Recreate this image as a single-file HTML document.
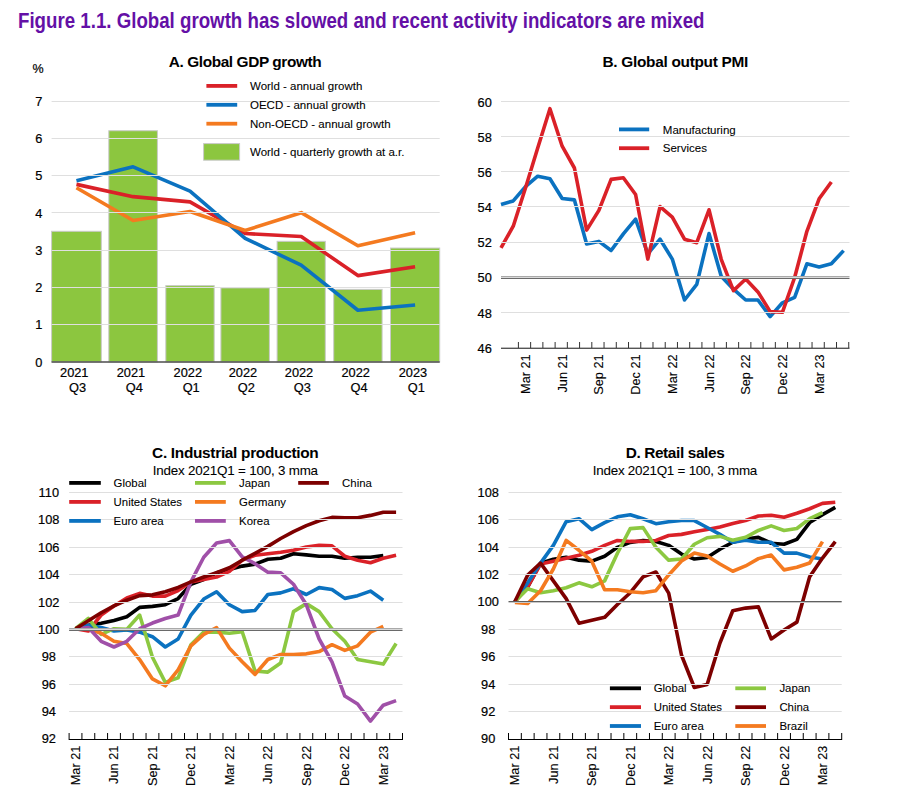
<!DOCTYPE html>
<html><head><meta charset="utf-8"><style>
html,body{margin:0;padding:0;background:#fff;}
body{width:912px;height:811px;overflow:hidden;}
svg{display:block;font-family:"Liberation Sans", sans-serif;}
text{fill:#000;stroke:#000;stroke-width:0.2px;}
text.lg{stroke-width:0.08px;}
text.tt{stroke-width:0;}
text.rl{stroke-width:0.1px;}
</style></head><body>
<svg width="912" height="811" viewBox="0 0 912 811">
<rect width="912" height="811" fill="#fff"/>
<rect x="51.60" y="231.29" width="49.70" height="130.71" fill="#8cc63f" stroke="#c9c9c9" stroke-width="1"/>
<rect x="108.80" y="130.74" width="48.60" height="231.26" fill="#8cc63f" stroke="#c9c9c9" stroke-width="1"/>
<rect x="165.80" y="285.66" width="48.40" height="76.34" fill="#8cc63f" stroke="#c9c9c9" stroke-width="1"/>
<rect x="220.90" y="287.89" width="48.50" height="74.11" fill="#8cc63f" stroke="#c9c9c9" stroke-width="1"/>
<rect x="277.10" y="241.34" width="48.20" height="120.66" fill="#8cc63f" stroke="#c9c9c9" stroke-width="1"/>
<rect x="333.70" y="289.38" width="48.40" height="72.62" fill="#8cc63f" stroke="#c9c9c9" stroke-width="1"/>
<rect x="390.50" y="248.05" width="49.20" height="113.95" fill="#8cc63f" stroke="#c9c9c9" stroke-width="1"/>
<polyline points="76.45,184.37 133.10,196.65 190.00,201.87 245.15,233.52 301.20,236.50 357.90,275.60 415.10,266.67" fill="none" stroke="#da2128" stroke-width="3.6" stroke-linejoin="round" stroke-linecap="butt"/>
<polyline points="76.45,180.64 133.10,166.86 190.00,191.07 245.15,238.36 301.20,265.18 357.90,310.24 415.10,305.02" fill="none" stroke="#0b72c0" stroke-width="3.6" stroke-linejoin="round" stroke-linecap="butt"/>
<polyline points="76.45,187.72 133.10,220.49 190.00,211.55 245.15,230.54 301.20,212.67 357.90,245.81 415.10,232.78" fill="none" stroke="#f47a20" stroke-width="3.6" stroke-linejoin="round" stroke-linecap="butt"/>
<polyline points="501.00,204.50 513.24,200.90 525.47,186.70 537.71,176.20 549.94,178.80 562.17,198.50 574.41,199.90 586.64,243.90 598.88,241.40 611.12,250.50 623.35,233.90 635.59,219.20 647.82,253.80 660.06,239.20 672.29,259.10 684.52,300.00 696.76,284.30 709.00,233.60 721.23,276.30 733.46,289.20 745.70,300.00 757.93,300.00 770.17,316.60 782.40,302.80 794.64,297.40 806.88,263.80 819.11,267.00 831.35,263.80 843.58,250.60" fill="none" stroke="#0b72c0" stroke-width="3.6" stroke-linejoin="round" stroke-linecap="butt"/>
<polyline points="501.00,247.90 513.24,226.20 525.47,188.00 537.71,148.00 549.94,108.70 562.17,146.20 574.41,168.00 586.64,230.10 598.88,210.40 611.12,179.40 623.35,177.70 635.59,194.50 647.82,259.10 660.06,206.60 672.29,217.10 684.52,239.20 696.76,242.70 709.00,209.80 721.23,259.30 733.46,290.60 745.70,279.00 757.93,291.90 770.17,311.60 782.40,312.30 794.64,277.50 806.88,231.30 819.11,198.80 831.35,182.00" fill="none" stroke="#da2128" stroke-width="3.6" stroke-linejoin="round" stroke-linecap="butt"/>
<polyline points="75.51,628.73 88.33,625.20 101.16,623.20 113.98,620.40 126.80,616.80 139.63,607.40 152.45,606.40 165.27,604.73 178.10,598.57 190.92,584.39 203.74,579.46 216.57,572.80 229.39,569.50 242.21,566.11 255.03,564.14 267.86,559.21 280.68,558.22 293.50,553.68 306.33,554.86 319.15,556.25 331.97,556.25 344.80,558.22 357.62,557.23 370.44,557.23 383.27,555.65" fill="none" stroke="#000" stroke-width="3.6" stroke-linejoin="round" stroke-linecap="butt"/>
<polyline points="75.51,628.73 88.33,631.01 101.16,615.00 113.98,605.91 126.80,597.92 139.63,593.36 152.45,596.10 165.27,596.10 178.10,590.55 190.92,581.92 203.74,579.46 216.57,576.99 229.39,571.44 242.21,560.19 255.03,555.26 267.86,553.68 280.68,552.30 293.50,550.33 306.33,546.97 319.15,545.39 331.97,545.79 344.80,556.25 357.62,560.19 370.44,562.76 383.27,558.22 396.09,555.26" fill="none" stroke="#da2128" stroke-width="3.6" stroke-linejoin="round" stroke-linecap="butt"/>
<polyline points="75.51,628.73 88.33,625.31 101.16,627.59 113.98,631.01 126.80,629.87 139.63,632.15 152.45,636.72 165.27,646.99 178.10,639.00 190.92,615.04 203.74,599.06 216.57,591.76 229.39,604.77 242.21,611.62 255.03,610.47 267.86,594.50 280.68,592.90 293.50,588.80 306.33,594.50 319.15,587.65 331.97,589.48 344.80,598.38 357.62,595.64 370.44,591.08 383.27,600.21" fill="none" stroke="#0b72c0" stroke-width="3.6" stroke-linejoin="round" stroke-linecap="butt"/>
<polyline points="75.51,628.73 88.33,618.46 101.16,634.44 113.98,628.73 126.80,629.42 139.63,615.04 152.45,657.26 165.27,682.36 178.10,677.80 190.92,644.71 203.74,632.15 216.57,632.15 229.39,633.30 242.21,631.70 255.03,670.95 267.86,672.09 280.68,662.96 293.50,611.62 306.33,603.63 319.15,611.62 331.97,628.73 344.80,641.28 357.62,659.54 370.44,661.82 383.27,664.10 396.09,643.56" fill="none" stroke="#8cc841" stroke-width="3.6" stroke-linejoin="round" stroke-linecap="butt"/>
<polyline points="75.51,628.73 88.33,628.73 101.16,633.30 113.98,641.28 126.80,643.56 139.63,659.54 152.45,678.94 165.27,685.78 178.10,669.81 190.92,645.85 203.74,634.44 216.57,627.59 229.39,648.13 242.21,661.82 255.03,674.37 267.86,659.54 280.68,654.52 293.50,654.52 306.33,653.83 319.15,651.55 331.97,644.71 344.80,650.41 357.62,645.85 370.44,632.15 383.27,626.45" fill="none" stroke="#f47a20" stroke-width="3.6" stroke-linejoin="round" stroke-linecap="butt"/>
<polyline points="75.51,628.73 88.33,627.59 101.16,641.28 113.98,646.99 126.80,641.28 139.63,628.73 152.45,623.03 165.27,618.46 178.10,615.04 190.92,581.92 203.74,557.26 216.57,543.08 229.39,540.62 242.21,556.85 255.03,563.69 267.86,572.14 280.68,572.82 293.50,584.23 306.33,604.77 319.15,639.00 331.97,661.82 344.80,696.05 357.62,704.04 370.44,721.15 383.27,705.18 396.09,700.62" fill="none" stroke="#a050a8" stroke-width="3.6" stroke-linejoin="round" stroke-linecap="butt"/>
<polyline points="75.51,628.73 88.33,620.74 101.16,612.76 113.98,605.91 126.80,600.21 139.63,595.64 152.45,594.87 165.27,591.79 178.10,587.47 190.92,581.92 203.74,576.99 216.57,572.68 229.39,567.74 242.21,560.19 255.03,553.29 267.86,546.38 280.68,538.48 293.50,531.58 306.33,525.66 319.15,520.72 331.97,517.37 344.80,517.76 357.62,517.76 370.44,515.39 383.27,512.24 396.09,512.24" fill="none" stroke="#7d0000" stroke-width="3.6" stroke-linejoin="round" stroke-linecap="butt"/>
<polyline points="514.91,601.58 527.72,586.79 540.54,563.12 553.35,559.17 566.17,557.20 578.98,560.16 591.80,561.14 604.62,556.21 617.43,547.34 630.25,542.41 643.06,540.43 655.88,541.42 668.69,545.36 681.51,554.10 694.32,559.03 707.14,557.46 719.95,549.17 732.77,542.27 745.58,538.92 758.40,537.34 771.22,543.25 784.03,544.24 796.85,539.31 809.66,522.54 822.48,514.65 835.29,507.36" fill="none" stroke="#000" stroke-width="3.6" stroke-linejoin="round" stroke-linecap="butt"/>
<polyline points="514.91,601.58 527.72,586.79 540.54,564.10 553.35,561.14 566.17,558.19 578.98,555.23 591.80,551.28 604.62,545.36 617.43,540.43 630.25,541.42 643.06,541.42 655.88,540.43 668.69,535.50 681.51,534.38 694.32,531.81 707.14,529.45 719.95,527.08 732.77,523.53 745.58,520.57 758.40,516.04 771.22,515.25 784.03,517.22 796.85,513.27 809.66,508.74 822.48,503.41 835.29,502.23" fill="none" stroke="#da2128" stroke-width="3.6" stroke-linejoin="round" stroke-linecap="butt"/>
<polyline points="514.91,601.58 527.72,582.84 540.54,563.12 553.35,545.36 566.17,521.70 578.98,518.74 591.80,529.59 604.62,522.68 617.43,516.77 630.25,514.79 643.06,518.74 655.88,523.67 668.69,521.70 681.51,520.57 694.32,520.57 707.14,527.48 719.95,534.38 732.77,542.27 745.58,540.30 758.40,542.27 771.22,542.27 784.03,553.12 796.85,553.12 809.66,557.06 822.48,559.03" fill="none" stroke="#0b72c0" stroke-width="3.6" stroke-linejoin="round" stroke-linecap="butt"/>
<polyline points="514.91,601.58 527.72,588.76 540.54,592.70 553.35,590.73 566.17,587.77 578.98,582.84 591.80,586.79 604.62,580.87 617.43,553.25 630.25,528.60 643.06,527.61 655.88,547.34 668.69,560.16 681.51,559.03 694.32,544.24 707.14,537.73 719.95,536.35 732.77,540.30 745.58,537.34 758.40,530.43 771.22,525.90 784.03,530.43 796.85,528.46 809.66,518.60 822.48,512.68" fill="none" stroke="#8cc841" stroke-width="3.6" stroke-linejoin="round" stroke-linecap="butt"/>
<polyline points="514.91,601.58 527.72,574.95 540.54,563.12 553.35,580.87 566.17,598.62 578.98,623.27 591.80,620.32 604.62,617.36 617.43,604.54 630.25,592.70 643.06,576.92 655.88,571.99 668.69,593.07 681.51,655.24 694.32,687.48 707.14,684.41 719.95,642.96 732.77,610.72 745.58,608.11 758.40,606.89 771.22,638.92 784.03,630.04 796.85,622.15 809.66,576.79 822.48,558.05 835.29,541.68" fill="none" stroke="#7d0000" stroke-width="3.6" stroke-linejoin="round" stroke-linecap="butt"/>
<polyline points="514.91,602.56 527.72,603.55 540.54,590.73 553.35,569.03 566.17,540.43 578.98,550.30 591.80,561.14 604.62,589.74 617.43,589.74 630.25,591.72 643.06,592.70 655.88,590.73 668.69,574.95 681.51,561.01 694.32,553.12 707.14,556.07 719.95,563.96 732.77,571.26 745.58,565.94 758.40,558.64 771.22,555.09 784.03,569.88 796.85,567.32 809.66,562.98 822.48,541.68" fill="none" stroke="#f47a20" stroke-width="3.6" stroke-linejoin="round" stroke-linecap="butt"/>
<rect x="51.60" y="324.00" width="388.10" height="1" fill="#dfdfdf"/>
<rect x="51.60" y="287.00" width="388.10" height="1" fill="#dfdfdf"/>
<rect x="51.60" y="250.00" width="388.10" height="1" fill="#dfdfdf"/>
<rect x="51.60" y="212.00" width="388.10" height="1" fill="#dfdfdf"/>
<rect x="51.60" y="175.00" width="388.10" height="1" fill="#dfdfdf"/>
<rect x="51.60" y="138.00" width="388.10" height="1" fill="#dfdfdf"/>
<rect x="51.60" y="101.00" width="388.10" height="1" fill="#dfdfdf"/>
<rect x="501.00" y="312.00" width="348.50" height="1" fill="#dfdfdf"/>
<rect x="501.00" y="242.00" width="348.50" height="1" fill="#dfdfdf"/>
<rect x="501.00" y="206.00" width="348.50" height="1" fill="#dfdfdf"/>
<rect x="501.00" y="171.00" width="348.50" height="1" fill="#dfdfdf"/>
<rect x="501.00" y="136.00" width="348.50" height="1" fill="#dfdfdf"/>
<rect x="501.00" y="101.00" width="348.50" height="1" fill="#dfdfdf"/>
<rect x="501.00" y="276.00" width="348.50" height="1" fill="#a9a9a9"/>
<rect x="501.00" y="277.00" width="348.50" height="1" fill="#d9d9d9"/>
<rect x="501.00" y="278.00" width="348.50" height="1" fill="#6a6a6a"/>
<rect x="69.10" y="711.00" width="333.40" height="1" fill="#dfdfdf"/>
<rect x="69.10" y="684.00" width="333.40" height="1" fill="#dfdfdf"/>
<rect x="69.10" y="656.00" width="333.40" height="1" fill="#dfdfdf"/>
<rect x="69.10" y="602.00" width="333.40" height="1" fill="#dfdfdf"/>
<rect x="69.10" y="574.00" width="333.40" height="1" fill="#dfdfdf"/>
<rect x="69.10" y="547.00" width="333.40" height="1" fill="#dfdfdf"/>
<rect x="69.10" y="519.00" width="333.40" height="1" fill="#dfdfdf"/>
<rect x="69.10" y="492.00" width="333.40" height="1" fill="#dfdfdf"/>
<rect x="69.10" y="628.00" width="333.40" height="1" fill="#a9a9a9"/>
<rect x="69.10" y="629.00" width="333.40" height="1" fill="#d9d9d9"/>
<rect x="69.10" y="630.00" width="333.40" height="1" fill="#6a6a6a"/>
<rect x="508.50" y="711.00" width="333.20" height="1" fill="#dfdfdf"/>
<rect x="508.50" y="684.00" width="333.20" height="1" fill="#dfdfdf"/>
<rect x="508.50" y="656.00" width="333.20" height="1" fill="#dfdfdf"/>
<rect x="508.50" y="629.00" width="333.20" height="1" fill="#dfdfdf"/>
<rect x="508.50" y="574.00" width="333.20" height="1" fill="#dfdfdf"/>
<rect x="508.50" y="547.00" width="333.20" height="1" fill="#dfdfdf"/>
<rect x="508.50" y="519.00" width="333.20" height="1" fill="#dfdfdf"/>
<rect x="508.50" y="492.00" width="333.20" height="1" fill="#dfdfdf"/>
<rect x="508.50" y="601.00" width="333.20" height="1" fill="#606060"/>
<rect x="508.50" y="602.00" width="333.20" height="1" fill="#c8c8c8"/>
<rect x="51.60" y="361.20" width="388.10" height="1.6" fill="#595959"/>
<rect x="501.00" y="347.60" width="348.50" height="1.4" fill="#555"/>
<rect x="517.90" y="342" width="1" height="6" fill="#333"/>
<rect x="530.13" y="342" width="1" height="6" fill="#333"/>
<rect x="542.37" y="342" width="1" height="6" fill="#333"/>
<rect x="554.61" y="342" width="1" height="6" fill="#333"/>
<rect x="566.84" y="342" width="1" height="6" fill="#333"/>
<rect x="579.07" y="342" width="1" height="6" fill="#333"/>
<rect x="591.31" y="342" width="1" height="6" fill="#333"/>
<rect x="603.54" y="342" width="1" height="6" fill="#333"/>
<rect x="615.78" y="342" width="1" height="6" fill="#333"/>
<rect x="628.01" y="342" width="1" height="6" fill="#333"/>
<rect x="640.25" y="342" width="1" height="6" fill="#333"/>
<rect x="652.48" y="342" width="1" height="6" fill="#333"/>
<rect x="664.72" y="342" width="1" height="6" fill="#333"/>
<rect x="676.95" y="342" width="1" height="6" fill="#333"/>
<rect x="689.19" y="342" width="1" height="6" fill="#333"/>
<rect x="701.42" y="342" width="1" height="6" fill="#333"/>
<rect x="713.66" y="342" width="1" height="6" fill="#333"/>
<rect x="725.89" y="342" width="1" height="6" fill="#333"/>
<rect x="738.13" y="342" width="1" height="6" fill="#333"/>
<rect x="750.37" y="342" width="1" height="6" fill="#333"/>
<rect x="762.60" y="342" width="1" height="6" fill="#333"/>
<rect x="774.84" y="342" width="1" height="6" fill="#333"/>
<rect x="787.07" y="342" width="1" height="6" fill="#333"/>
<rect x="799.30" y="342" width="1" height="6" fill="#333"/>
<rect x="811.54" y="342" width="1" height="6" fill="#333"/>
<rect x="823.77" y="342" width="1" height="6" fill="#333"/>
<rect x="836.01" y="342" width="1" height="6" fill="#333"/>
<rect x="848.24" y="342" width="1" height="6" fill="#333"/>
<rect x="68.60" y="739.00" width="334.40" height="1" fill="#000"/>
<rect x="68.60" y="733" width="1" height="6" fill="#000"/>
<rect x="81.42" y="733" width="1" height="6" fill="#000"/>
<rect x="94.25" y="733" width="1" height="6" fill="#000"/>
<rect x="107.07" y="733" width="1" height="6" fill="#000"/>
<rect x="119.89" y="733" width="1" height="6" fill="#000"/>
<rect x="132.72" y="733" width="1" height="6" fill="#000"/>
<rect x="145.54" y="733" width="1" height="6" fill="#000"/>
<rect x="158.36" y="733" width="1" height="6" fill="#000"/>
<rect x="171.18" y="733" width="1" height="6" fill="#000"/>
<rect x="184.01" y="733" width="1" height="6" fill="#000"/>
<rect x="196.83" y="733" width="1" height="6" fill="#000"/>
<rect x="209.65" y="733" width="1" height="6" fill="#000"/>
<rect x="222.48" y="733" width="1" height="6" fill="#000"/>
<rect x="235.30" y="733" width="1" height="6" fill="#000"/>
<rect x="248.12" y="733" width="1" height="6" fill="#000"/>
<rect x="260.95" y="733" width="1" height="6" fill="#000"/>
<rect x="273.77" y="733" width="1" height="6" fill="#000"/>
<rect x="286.59" y="733" width="1" height="6" fill="#000"/>
<rect x="299.42" y="733" width="1" height="6" fill="#000"/>
<rect x="312.24" y="733" width="1" height="6" fill="#000"/>
<rect x="325.06" y="733" width="1" height="6" fill="#000"/>
<rect x="337.88" y="733" width="1" height="6" fill="#000"/>
<rect x="350.71" y="733" width="1" height="6" fill="#000"/>
<rect x="363.53" y="733" width="1" height="6" fill="#000"/>
<rect x="376.35" y="733" width="1" height="6" fill="#000"/>
<rect x="389.18" y="733" width="1" height="6" fill="#000"/>
<rect x="402.00" y="733" width="1" height="6" fill="#000"/>
<rect x="508.00" y="739.00" width="334.20" height="1" fill="#000"/>
<rect x="508.00" y="733" width="1" height="6" fill="#000"/>
<rect x="520.82" y="733" width="1" height="6" fill="#000"/>
<rect x="533.63" y="733" width="1" height="6" fill="#000"/>
<rect x="546.45" y="733" width="1" height="6" fill="#000"/>
<rect x="559.26" y="733" width="1" height="6" fill="#000"/>
<rect x="572.08" y="733" width="1" height="6" fill="#000"/>
<rect x="584.89" y="733" width="1" height="6" fill="#000"/>
<rect x="597.71" y="733" width="1" height="6" fill="#000"/>
<rect x="610.52" y="733" width="1" height="6" fill="#000"/>
<rect x="623.34" y="733" width="1" height="6" fill="#000"/>
<rect x="636.15" y="733" width="1" height="6" fill="#000"/>
<rect x="648.97" y="733" width="1" height="6" fill="#000"/>
<rect x="661.78" y="733" width="1" height="6" fill="#000"/>
<rect x="674.60" y="733" width="1" height="6" fill="#000"/>
<rect x="687.42" y="733" width="1" height="6" fill="#000"/>
<rect x="700.23" y="733" width="1" height="6" fill="#000"/>
<rect x="713.05" y="733" width="1" height="6" fill="#000"/>
<rect x="725.86" y="733" width="1" height="6" fill="#000"/>
<rect x="738.68" y="733" width="1" height="6" fill="#000"/>
<rect x="751.49" y="733" width="1" height="6" fill="#000"/>
<rect x="764.31" y="733" width="1" height="6" fill="#000"/>
<rect x="777.12" y="733" width="1" height="6" fill="#000"/>
<rect x="789.94" y="733" width="1" height="6" fill="#000"/>
<rect x="802.75" y="733" width="1" height="6" fill="#000"/>
<rect x="815.57" y="733" width="1" height="6" fill="#000"/>
<rect x="828.38" y="733" width="1" height="6" fill="#000"/>
<rect x="841.20" y="733" width="1" height="6" fill="#000"/>
<rect x="206.40" y="84.00" width="30.80" height="3.8" fill="#da2128"/>
<rect x="206.40" y="102.90" width="30.80" height="3.8" fill="#0b72c0"/>
<rect x="206.40" y="121.80" width="30.80" height="3.8" fill="#f47a20"/>
<rect x="203.6" y="143.6" width="36" height="16.6" fill="#8cc63f" stroke="#c9c9c9" stroke-width="1"/>
<rect x="619.00" y="127.50" width="30.20" height="3.8" fill="#0b72c0"/>
<rect x="619.00" y="146.30" width="30.20" height="3.8" fill="#da2128"/>
<rect x="69.20" y="481.00" width="31.60" height="3.8" fill="#000"/>
<rect x="69.20" y="500.00" width="31.60" height="3.8" fill="#da2128"/>
<rect x="69.20" y="519.00" width="31.60" height="3.8" fill="#0b72c0"/>
<rect x="195.00" y="481.00" width="30.80" height="3.8" fill="#8cc841"/>
<rect x="195.00" y="500.00" width="30.80" height="3.8" fill="#f47a20"/>
<rect x="195.00" y="519.00" width="30.80" height="3.8" fill="#a050a8"/>
<rect x="298.20" y="481.00" width="30.70" height="3.8" fill="#7d0000"/>
<rect x="609.90" y="686.40" width="31.10" height="3.8" fill="#000"/>
<rect x="609.90" y="705.25" width="31.10" height="3.8" fill="#da2128"/>
<rect x="609.90" y="724.10" width="31.10" height="3.8" fill="#0b72c0"/>
<rect x="735.30" y="686.40" width="30.70" height="3.8" fill="#8cc841"/>
<rect x="735.30" y="705.25" width="30.70" height="3.8" fill="#7d0000"/>
<rect x="735.30" y="724.10" width="30.70" height="3.8" fill="#f47a20"/>
<text x="18" y="27.6" font-size="22.6" font-weight="bold" style="fill:#6410a6;stroke:none" textLength="686.5" lengthAdjust="spacingAndGlyphs">Figure 1.1. Global growth has slowed and recent activity indicators are mixed</text>
<text x="245.20" y="66.90" font-size="15.4" text-anchor="middle" font-weight="bold" class="tt" textLength="153">A. Global GDP growth</text>
<text x="38.10" y="72.60" font-size="12.5" text-anchor="middle" font-weight="normal" >%</text>
<text x="42.30" y="366.50" font-size="12.8" text-anchor="end" font-weight="normal" >0</text>
<text x="42.30" y="329.26" font-size="12.8" text-anchor="end" font-weight="normal" >1</text>
<text x="42.30" y="292.02" font-size="12.8" text-anchor="end" font-weight="normal" >2</text>
<text x="42.30" y="254.78" font-size="12.8" text-anchor="end" font-weight="normal" >3</text>
<text x="42.30" y="217.54" font-size="12.8" text-anchor="end" font-weight="normal" >4</text>
<text x="42.30" y="180.30" font-size="12.8" text-anchor="end" font-weight="normal" >5</text>
<text x="42.30" y="143.06" font-size="12.8" text-anchor="end" font-weight="normal" >6</text>
<text x="42.30" y="105.82" font-size="12.8" text-anchor="end" font-weight="normal" >7</text>
<text x="74.25" y="376.70" font-size="12.8" text-anchor="middle" font-weight="normal" >2021</text>
<text x="77.65" y="392.00" font-size="12.8" text-anchor="middle" font-weight="normal" >Q3</text>
<text x="130.90" y="376.70" font-size="12.8" text-anchor="middle" font-weight="normal" >2021</text>
<text x="134.30" y="392.00" font-size="12.8" text-anchor="middle" font-weight="normal" >Q4</text>
<text x="187.80" y="376.70" font-size="12.8" text-anchor="middle" font-weight="normal" >2022</text>
<text x="191.20" y="392.00" font-size="12.8" text-anchor="middle" font-weight="normal" >Q1</text>
<text x="242.95" y="376.70" font-size="12.8" text-anchor="middle" font-weight="normal" >2022</text>
<text x="246.35" y="392.00" font-size="12.8" text-anchor="middle" font-weight="normal" >Q2</text>
<text x="299.00" y="376.70" font-size="12.8" text-anchor="middle" font-weight="normal" >2022</text>
<text x="302.40" y="392.00" font-size="12.8" text-anchor="middle" font-weight="normal" >Q3</text>
<text x="355.70" y="376.70" font-size="12.8" text-anchor="middle" font-weight="normal" >2022</text>
<text x="359.10" y="392.00" font-size="12.8" text-anchor="middle" font-weight="normal" >Q4</text>
<text x="412.90" y="376.70" font-size="12.8" text-anchor="middle" font-weight="normal" >2023</text>
<text x="416.30" y="392.00" font-size="12.8" text-anchor="middle" font-weight="normal" >Q1</text>
<text x="250.00" y="90.00" font-size="11.5" text-anchor="start" font-weight="normal" class="lg">World - annual growth</text>
<text x="250.00" y="108.90" font-size="11.5" text-anchor="start" font-weight="normal" class="lg">OECD - annual growth</text>
<text x="250.00" y="127.80" font-size="11.5" text-anchor="start" font-weight="normal" class="lg">Non-OECD - annual growth</text>
<text x="250.00" y="155.80" font-size="11.5" text-anchor="start" font-weight="normal" class="lg">World - quarterly growth at a.r.</text>
<text x="675.40" y="67.10" font-size="15.4" text-anchor="middle" font-weight="bold" class="tt" textLength="145.8">B. Global output PMI</text>
<text x="491.80" y="352.70" font-size="12.8" text-anchor="end" font-weight="normal" >46</text>
<text x="491.80" y="317.54" font-size="12.8" text-anchor="end" font-weight="normal" >48</text>
<text x="491.80" y="282.38" font-size="12.8" text-anchor="end" font-weight="normal" >50</text>
<text x="491.80" y="247.22" font-size="12.8" text-anchor="end" font-weight="normal" >52</text>
<text x="491.80" y="212.06" font-size="12.8" text-anchor="end" font-weight="normal" >54</text>
<text x="491.80" y="176.90" font-size="12.8" text-anchor="end" font-weight="normal" >56</text>
<text x="491.80" y="141.74" font-size="12.8" text-anchor="end" font-weight="normal" >58</text>
<text x="491.80" y="106.58" font-size="12.8" text-anchor="end" font-weight="normal" >60</text>
<text class="rl" transform="translate(525.47,354.3) rotate(-90)" x="0" y="0" font-size="12.75" text-anchor="end" dominant-baseline="central">Mar 21</text>
<text class="rl" transform="translate(562.17,354.3) rotate(-90)" x="0" y="0" font-size="12.75" text-anchor="end" dominant-baseline="central">Jun 21</text>
<text class="rl" transform="translate(598.88,354.3) rotate(-90)" x="0" y="0" font-size="12.75" text-anchor="end" dominant-baseline="central">Sep 21</text>
<text class="rl" transform="translate(635.59,354.3) rotate(-90)" x="0" y="0" font-size="12.75" text-anchor="end" dominant-baseline="central">Dec 21</text>
<text class="rl" transform="translate(672.29,354.3) rotate(-90)" x="0" y="0" font-size="12.75" text-anchor="end" dominant-baseline="central">Mar 22</text>
<text class="rl" transform="translate(709.00,354.3) rotate(-90)" x="0" y="0" font-size="12.75" text-anchor="end" dominant-baseline="central">Jun 22</text>
<text class="rl" transform="translate(745.70,354.3) rotate(-90)" x="0" y="0" font-size="12.75" text-anchor="end" dominant-baseline="central">Sep 22</text>
<text class="rl" transform="translate(782.40,354.3) rotate(-90)" x="0" y="0" font-size="12.75" text-anchor="end" dominant-baseline="central">Dec 22</text>
<text class="rl" transform="translate(819.11,354.3) rotate(-90)" x="0" y="0" font-size="12.75" text-anchor="end" dominant-baseline="central">Mar 23</text>
<text x="662.80" y="134.00" font-size="11.5" text-anchor="start" font-weight="normal" class="lg">Manufacturing</text>
<text x="662.80" y="152.40" font-size="11.5" text-anchor="start" font-weight="normal" class="lg">Services</text>
<text x="235.40" y="458.00" font-size="15.4" text-anchor="middle" font-weight="bold" class="tt" textLength="166.6">C. Industrial production</text>
<text x="235.40" y="474.60" font-size="13.4" text-anchor="middle" font-weight="normal" class="lg" textLength="165.3">Index 2021Q1 = 100, 3 mma</text>
<text x="48.80" y="743.25" font-size="12.8" text-anchor="middle" font-weight="normal" >92</text>
<text x="48.80" y="715.90" font-size="12.8" text-anchor="middle" font-weight="normal" >94</text>
<text x="48.80" y="688.55" font-size="12.8" text-anchor="middle" font-weight="normal" >96</text>
<text x="48.80" y="661.20" font-size="12.8" text-anchor="middle" font-weight="normal" >98</text>
<text x="48.80" y="633.85" font-size="12.8" text-anchor="middle" font-weight="normal" >100</text>
<text x="48.80" y="606.50" font-size="12.8" text-anchor="middle" font-weight="normal" >102</text>
<text x="48.80" y="579.15" font-size="12.8" text-anchor="middle" font-weight="normal" >104</text>
<text x="48.80" y="551.80" font-size="12.8" text-anchor="middle" font-weight="normal" >106</text>
<text x="48.80" y="524.45" font-size="12.8" text-anchor="middle" font-weight="normal" >108</text>
<text x="48.80" y="497.10" font-size="12.8" text-anchor="middle" font-weight="normal" >110</text>
<text class="rl" transform="translate(75.51,745.6) rotate(-90)" x="0" y="0" font-size="12.75" text-anchor="end" dominant-baseline="central">Mar 21</text>
<text class="rl" transform="translate(113.98,745.6) rotate(-90)" x="0" y="0" font-size="12.75" text-anchor="end" dominant-baseline="central">Jun 21</text>
<text class="rl" transform="translate(152.45,745.6) rotate(-90)" x="0" y="0" font-size="12.75" text-anchor="end" dominant-baseline="central">Sep 21</text>
<text class="rl" transform="translate(190.92,745.6) rotate(-90)" x="0" y="0" font-size="12.75" text-anchor="end" dominant-baseline="central">Dec 21</text>
<text class="rl" transform="translate(229.39,745.6) rotate(-90)" x="0" y="0" font-size="12.75" text-anchor="end" dominant-baseline="central">Mar 22</text>
<text class="rl" transform="translate(267.86,745.6) rotate(-90)" x="0" y="0" font-size="12.75" text-anchor="end" dominant-baseline="central">Jun 22</text>
<text class="rl" transform="translate(306.33,745.6) rotate(-90)" x="0" y="0" font-size="12.75" text-anchor="end" dominant-baseline="central">Sep 22</text>
<text class="rl" transform="translate(344.80,745.6) rotate(-90)" x="0" y="0" font-size="12.75" text-anchor="end" dominant-baseline="central">Dec 22</text>
<text class="rl" transform="translate(383.27,745.6) rotate(-90)" x="0" y="0" font-size="12.75" text-anchor="end" dominant-baseline="central">Mar 23</text>
<text x="113.60" y="487.00" font-size="11.4" text-anchor="start" font-weight="normal" class="lg">Global</text>
<text x="113.60" y="506.00" font-size="11.4" text-anchor="start" font-weight="normal" class="lg">United States</text>
<text x="113.60" y="525.00" font-size="11.4" text-anchor="start" font-weight="normal" class="lg">Euro area</text>
<text x="239.10" y="487.00" font-size="11.4" text-anchor="start" font-weight="normal" class="lg">Japan</text>
<text x="239.10" y="506.00" font-size="11.4" text-anchor="start" font-weight="normal" class="lg">Germany</text>
<text x="239.10" y="525.00" font-size="11.4" text-anchor="start" font-weight="normal" class="lg">Korea</text>
<text x="342.10" y="487.00" font-size="11.4" text-anchor="start" font-weight="normal" class="lg">China</text>
<text x="675.20" y="458.00" font-size="15.4" text-anchor="middle" font-weight="bold" class="tt" textLength="99.1">D. Retail sales</text>
<text x="675.00" y="474.60" font-size="13.4" text-anchor="middle" font-weight="normal" class="lg" textLength="164.5">Index 2021Q1 = 100, 3 mma</text>
<text x="488.20" y="743.38" font-size="12.8" text-anchor="middle" font-weight="normal" >90</text>
<text x="488.20" y="716.00" font-size="12.8" text-anchor="middle" font-weight="normal" >92</text>
<text x="488.20" y="688.62" font-size="12.8" text-anchor="middle" font-weight="normal" >94</text>
<text x="488.20" y="661.24" font-size="12.8" text-anchor="middle" font-weight="normal" >96</text>
<text x="488.20" y="633.86" font-size="12.8" text-anchor="middle" font-weight="normal" >98</text>
<text x="488.20" y="606.48" font-size="12.8" text-anchor="middle" font-weight="normal" >100</text>
<text x="488.20" y="579.10" font-size="12.8" text-anchor="middle" font-weight="normal" >102</text>
<text x="488.20" y="551.72" font-size="12.8" text-anchor="middle" font-weight="normal" >104</text>
<text x="488.20" y="524.34" font-size="12.8" text-anchor="middle" font-weight="normal" >106</text>
<text x="488.20" y="496.96" font-size="12.8" text-anchor="middle" font-weight="normal" >108</text>
<text class="rl" transform="translate(514.91,745.6) rotate(-90)" x="0" y="0" font-size="12.75" text-anchor="end" dominant-baseline="central">Mar 21</text>
<text class="rl" transform="translate(553.35,745.6) rotate(-90)" x="0" y="0" font-size="12.75" text-anchor="end" dominant-baseline="central">Jun 21</text>
<text class="rl" transform="translate(591.80,745.6) rotate(-90)" x="0" y="0" font-size="12.75" text-anchor="end" dominant-baseline="central">Sep 21</text>
<text class="rl" transform="translate(630.25,745.6) rotate(-90)" x="0" y="0" font-size="12.75" text-anchor="end" dominant-baseline="central">Dec 21</text>
<text class="rl" transform="translate(668.69,745.6) rotate(-90)" x="0" y="0" font-size="12.75" text-anchor="end" dominant-baseline="central">Mar 22</text>
<text class="rl" transform="translate(707.14,745.6) rotate(-90)" x="0" y="0" font-size="12.75" text-anchor="end" dominant-baseline="central">Jun 22</text>
<text class="rl" transform="translate(745.58,745.6) rotate(-90)" x="0" y="0" font-size="12.75" text-anchor="end" dominant-baseline="central">Sep 22</text>
<text class="rl" transform="translate(784.03,745.6) rotate(-90)" x="0" y="0" font-size="12.75" text-anchor="end" dominant-baseline="central">Dec 22</text>
<text class="rl" transform="translate(822.48,745.6) rotate(-90)" x="0" y="0" font-size="12.75" text-anchor="end" dominant-baseline="central">Mar 23</text>
<text x="653.70" y="692.40" font-size="11.4" text-anchor="start" font-weight="normal" class="lg">Global</text>
<text x="653.70" y="711.25" font-size="11.4" text-anchor="start" font-weight="normal" class="lg">United States</text>
<text x="653.70" y="730.10" font-size="11.4" text-anchor="start" font-weight="normal" class="lg">Euro area</text>
<text x="779.40" y="692.40" font-size="11.4" text-anchor="start" font-weight="normal" class="lg">Japan</text>
<text x="779.40" y="711.25" font-size="11.4" text-anchor="start" font-weight="normal" class="lg">China</text>
<text x="779.40" y="730.10" font-size="11.4" text-anchor="start" font-weight="normal" class="lg">Brazil</text>
</svg></body></html>
